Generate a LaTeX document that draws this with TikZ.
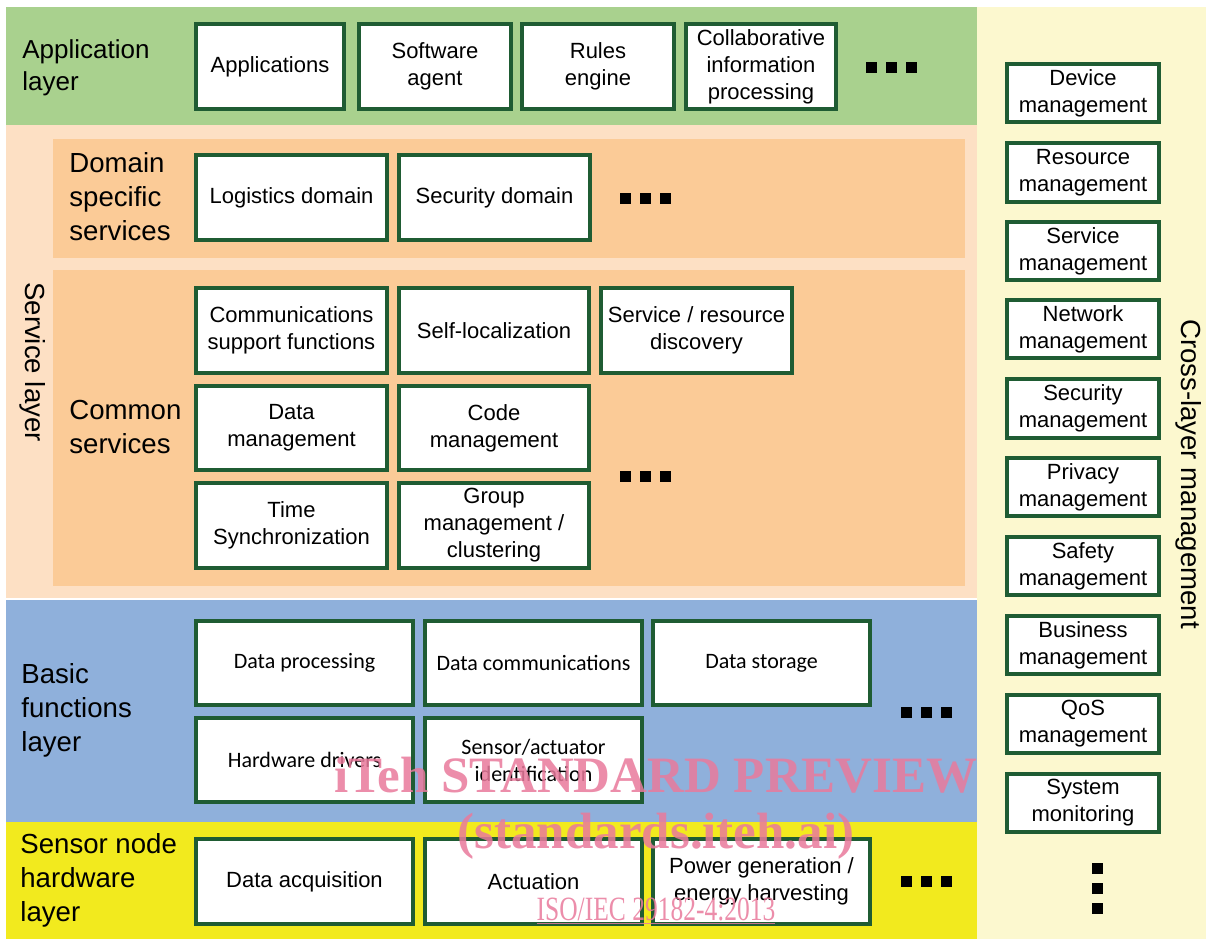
\documentclass[tikz,border=0pt]{standalone}
\usepackage{fontspec}
\setmainfont{Liberation Sans}
\newfontfamily\calfont{Carlito}
\newfontfamily\wmfont{Liberation Serif}
\definecolor{appgreen}{HTML}{A9D18E}
\definecolor{servlight}{HTML}{FDE0C4}
\definecolor{servorange}{HTML}{FBCB97}
\definecolor{basicblue}{HTML}{8FB0DB}
\definecolor{sensoryellow}{HTML}{F2EA1E}
\definecolor{crosspanel}{HTML}{FCF8CF}
\definecolor{boxgreen}{HTML}{1F5C33}
\definecolor{wmpink}{HTML}{E97A9C}
\tikzset{
  box/.style={draw=boxgreen, line width=2.2pt, fill=white, inner sep=0pt, align=center,
    font=\fontsize{11}{13.5}\selectfont},
  cbox/.style={box, font=\calfont\fontsize{11}{13.5}\selectfont},
  layerlabel/.style={anchor=west, align=left, inner sep=0pt, font=\fontsize{13.8}{17}\selectfont},
  dotsq/.style={fill=black},
  wm/.style={text=wmpink, text opacity=0.85, inner sep=0pt, anchor=base}
}
% \bx[style]{name}{x1}{y1}{x2}{y2}{text}
\newcommand\bx[7][box]{%
  \node[#1, minimum width={(#5-#3)*0.5pt}, minimum height={(#6-#4)*0.5pt}]
    (#2) at ({(#3+#5)/2},{(#4+#6)/2}) {#7};}
\begin{document}
\begin{tikzpicture}[x=0.5pt,y=-0.5pt]
\useasboundingbox (0,0) rectangle (1206,939);
% backgrounds
\fill[white] (0,0) rectangle (1206,939);
\fill[appgreen] (6,7) rectangle (977,125);
\fill[servlight] (6,125) rectangle (977,598);
\fill[servorange] (53,139) rectangle (965,258);
\fill[servorange] (53,270) rectangle (965,586);
\fill[basicblue] (6,600) rectangle (977,822);
\fill[sensoryellow] (6,822) rectangle (977,939);
\fill[crosspanel] (977,7) rectangle (1206,939);

% layer labels
\node[layerlabel, font=\fontsize{13}{16}\selectfont] (lapp) at (22,68) {Application\\layer};
\node[layerlabel] (ldom) at (69,197) {Domain\\specific\\services};
\node[layerlabel] (lcom) at (69,427) {Common\\services};
\node[layerlabel] (lbas) at (21,710) {Basic\\functions\\layer};
\node[layerlabel] (lsen) at (20,880) {Sensor node\\hardware\\layer};
\node[inner sep=0pt, rotate=-90, font=\fontsize{13.8}{17}\selectfont] (lserv) at (33,362) {Service layer};
\node[inner sep=0pt, rotate=-90, font=\fontsize{13.8}{17}\selectfont] (lcross) at (1189,474) {Cross-layer management};

% application layer
\bx{a1}{196}{24}{344}{109}{Applications}
\bx{a2}{359}{24}{511}{109}{Software\\agent}
\bx{a3}{522}{24}{674}{109}{Rules\\engine}
\bx{a4}{686}{24}{836}{109}{Collaborative\\information\\processing}

% domain specific
\bx{d1}{196}{155}{387}{240}{Logistics domain}
\bx{d2}{399}{155}{590}{240}{Security domain}

% common services
\bx{c1}{196}{288}{387}{373}{Communications\\support functions}
\bx{c2}{399}{288}{589}{373}{Self-localization}
\bx{c3}{601}{288}{792}{373}{Service / resource\\discovery}
\bx{c4}{196}{386}{387}{470}{Data\\management}
\bx{c5}{399}{386}{589}{470}{Code\\management}
\bx{c6}{196}{483}{387}{568}{Time\\Synchronization}
\bx{c7}{399}{483}{589}{568}{Group\\management /\\clustering}

% basic functions
\bx[cbox]{b1}{196}{621}{413}{705}{Data processing}
\bx[cbox]{b2}{425}{621}{642}{705}{Data communications}
\bx[cbox]{b3}{653}{621}{870}{705}{Data storage}
\bx[cbox]{b4}{196}{718}{413}{802}{Hardware drivers}
\bx[cbox]{b5}{425}{718}{642}{802}{Sensor/actuator\\identification}

% sensor node hardware
\bx{s1}{196}{839}{413}{924}{Data acquisition}
\bx{s2}{425}{839}{642}{924}{Actuation}
\bx{s3}{653}{839}{870}{924}{Power generation /\\energy harvesting}

% cross-layer management
\bx{x1}{1007}{64}{1159}{122}{Device\\management}
\bx{x2}{1007}{143}{1159}{202}{Resource\\management}
\bx{x3}{1007}{222}{1159}{280}{Service\\management}
\bx{x4}{1007}{300}{1159}{358}{Network\\management}
\bx{x5}{1007}{379}{1159}{438}{Security\\management}
\bx{x6}{1007}{458}{1159}{516}{Privacy\\management}
\bx{x7}{1007}{537}{1159}{595}{Safety\\management}
\bx{x8}{1007}{616}{1159}{674}{Business\\management}
\bx{x9}{1007}{695}{1159}{753}{QoS\\management}
\bx{x10}{1007}{774}{1159}{832}{System\\monitoring}

% ellipsis squares
\foreach \cx/\cy in {871/67,891/67,911/67,
                     625/198,645/198,665/198,
                     625/476,645/476,665/476,
                     906/712,926/712,946/712,
                     906/881,926/881,946/881,
                     1097/868,1097/888,1097/908}
  \fill[dotsq] (\cx-5.5,\cy-5.5) rectangle (\cx+5.5,\cy+5.5);

% watermark
\node[wm, font=\wmfont\bfseries\fontsize{25.5}{28}\selectfont] (wm1) at (656,792) {iTeh STANDARD PREVIEW};
\node[wm, font=\wmfont\bfseries\fontsize{25.5}{28}\selectfont] (wm2) at (656,848) {(standards.iteh.ai)};
\node[wm, font=\wmfont\fontsize{17}{19}\selectfont, xscale=0.75] (wm3) at (656,920) {\underline{ISO/IEC 29182-4:2013}};
\end{tikzpicture}
\end{document}
